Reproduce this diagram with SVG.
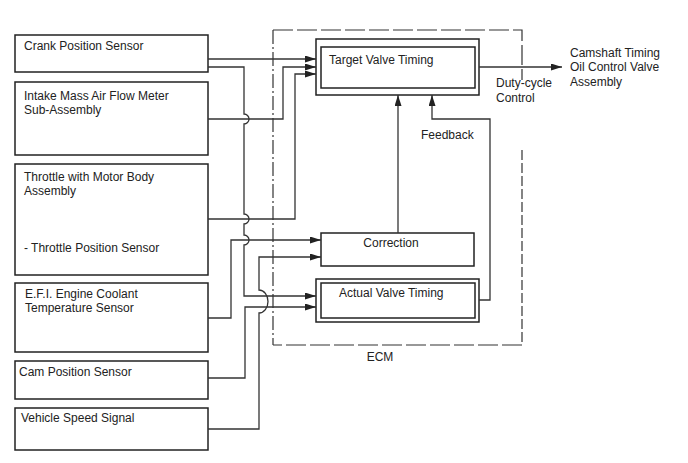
<svg xmlns="http://www.w3.org/2000/svg" width="688" height="463" viewBox="0 0 688 463">
<defs>
<marker id="arr" markerUnits="userSpaceOnUse" markerWidth="12" markerHeight="8" refX="11" refY="3.5" orient="auto">
<path d="M0,0 L11,3.5 L0,7 Z" fill="#222"/>
</marker>
<style>
.box{fill:#fff;stroke:#222;stroke-width:1.5}
.t{font-family:"Liberation Sans",Arial,sans-serif;font-size:12px;fill:#222}
.ln{fill:none;stroke:#333;stroke-width:1.3}
.ecm{fill:none;stroke:#333;stroke-width:1.2}
</style>
</defs>
<rect width="688" height="463" fill="#fff"/>

<g id="ecm">
<path class="ecm" d="M273,30 H522 V80" stroke-dasharray="20 4"/>
<path class="ecm" d="M273,30 V345" stroke-dasharray="14 3 2 3"/>
<path class="ecm" d="M522,150 V345" stroke-dasharray="10 3"/>
<path class="ecm" d="M522,345 H273" stroke-dasharray="20 4"/>
<text class="t" x="380" y="361" text-anchor="middle">ECM</text>
</g>

<g id="crank">
<rect class="box" x="15" y="35" width="193" height="37"/>
<text class="t" x="24" y="50">Crank Position Sensor</text>
</g>
<g id="maf">
<rect class="box" x="15" y="82" width="193" height="73"/>
<text class="t" x="24" y="100">Intake Mass Air Flow Meter</text>
<text class="t" x="24" y="114">Sub-Assembly</text>
</g>
<g id="throttle">
<rect class="box" x="15" y="164" width="193" height="111"/>
<text class="t" x="24" y="181">Throttle with Motor Body</text>
<text class="t" x="24" y="195">Assembly</text>
<text class="t" x="24" y="252">- Throttle Position Sensor</text>
</g>
<g id="coolant">
<rect class="box" x="15" y="283" width="193" height="69"/>
<text class="t" x="25" y="298">E.F.I. Engine Coolant</text>
<text class="t" x="25" y="312">Temperature Sensor</text>
</g>
<g id="cam">
<rect class="box" x="15" y="361" width="193" height="38"/>
<text class="t" x="19" y="376">Cam Position Sensor</text>
</g>
<g id="speed">
<rect class="box" x="15" y="408" width="193" height="42"/>
<text class="t" x="21" y="422">Vehicle Speed Signal</text>
</g>

<g id="target">
<rect class="box" x="316" y="39" width="163" height="56"/>
<rect class="box" x="321" y="47" width="154" height="41"/>
<text class="t" x="329" y="64">Target Valve Timing</text>
</g>
<g id="correction">
<rect class="box" x="321" y="233" width="153" height="33"/>
<text class="t" x="391" y="247" text-anchor="middle">Correction</text>
</g>
<g id="actual">
<rect class="box" x="316" y="279" width="163" height="43"/>
<rect class="box" x="321" y="283" width="154" height="35"/>
<text class="t" x="339" y="297">Actual Valve Timing</text>
</g>
<g id="ocv">
<text class="t" x="570" y="57">Camshaft Timing</text>
<text class="t" x="570" y="71">Oil Control Valve</text>
<text class="t" x="570" y="86">Assembly</text>
</g>

<g id="connectors">
<path class="ln" d="M208,59 H316" marker-end="url(#arr)"/>
<path class="ln" d="M208,119 H283 V67 H316" marker-end="url(#arr)"/>
<path class="ln" d="M208,219 H295 V74 H316" marker-end="url(#arr)"/>
<path class="ln" d="M208,67 H244 V114 A5,5 0 0 1 244,124 V214 A5,5 0 0 1 244,224 V235 A5,5 0 0 1 244,245 V296 H316" marker-end="url(#arr)"/>
<path class="ln" d="M208,318 H231 V240 H321" marker-end="url(#arr)"/>
<path class="ln" d="M208,429 H259 V313 A9,11.5 0 0 0 259,290 V257 H321" marker-end="url(#arr)"/>
<path class="ln" d="M208,378 H245 V307 H316" marker-end="url(#arr)"/>
<path class="ln" d="M398,233 V95" marker-end="url(#arr)"/>
<path class="ln" d="M479,300 H490 V119 H432 V95" marker-end="url(#arr)"/>
<path class="ln" d="M479,67 H562" marker-end="url(#arr)"/>
<text class="t" x="496" y="87">Duty-cycle</text>
<text class="t" x="496" y="102">Control</text>
<text class="t" x="421" y="139">Feedback</text>
</g>
</svg>
